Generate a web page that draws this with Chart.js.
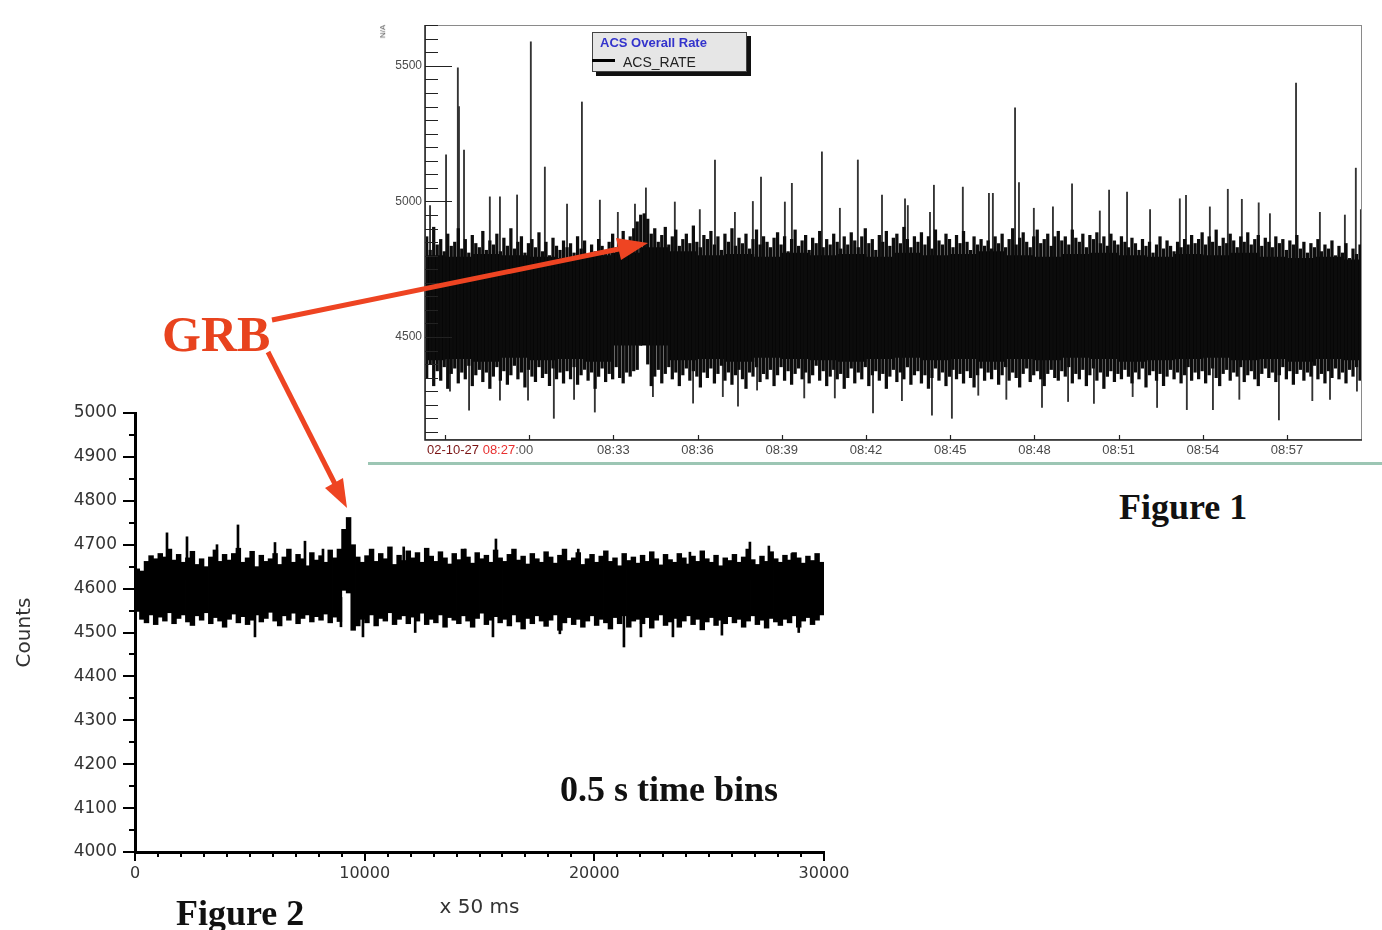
<!DOCTYPE html>
<html>
<head>
<meta charset="utf-8">
<title>ACS overall rate and GRB light curve</title>
<script src="https://cdn.jsdelivr.net/npm/chart.js@4.4.1/dist/chart.umd.min.js"></script>
<style>
	body { margin: 0; background: #fff; }
	#page { position: relative; width: 1382px; height: 930px; overflow: hidden; background: #fff; }
	canvas { position: absolute; }
	#fig1 { left: 380px; top: 20px; }
	#fig2 { left: 0; top: 400px; }
	.note { position: absolute; white-space: nowrap; line-height: 1; font-family: "Liberation Serif", "Times New Roman", serif; font-weight: bold; color: #111; }
	#grb { left: 162px; top: 309px; font-size: 50px; color: #e8431e; }
	#fig1-caption { left: 1119px; top: 489px; font-size: 36px; }
	#fig2-caption { left: 176px; top: 895px; font-size: 36px; }
	#bins { left: 560px; top: 771px; font-size: 36px; }
	#rule { position: absolute; left: 368px; top: 462px; width: 1014px; height: 3px; background: #9cc6b4; }
	#na { position: absolute; left: 376px; top: 27px; font: 8px "Liberation Sans", Arial, sans-serif; color: #555; transform: rotate(-90deg); }
	#legend { position: absolute; left: 592px; top: 32px; width: 155px; height: 40px; box-sizing: border-box; background: #e6e6e6; border: 1px solid #444; box-shadow: 4px 4px 0 #111; }
	#legend .title { position: absolute; left: 7px; top: 2px; font: bold 13px "Liberation Sans", Arial, sans-serif; color: #3333cc; white-space: nowrap; }
	#legend .swatch { position: absolute; left: -1px; top: 26px; width: 23px; height: 3px; background: #000; }
	#legend .name { position: absolute; left: 30px; top: 21px; font: 14px "Liberation Sans", Arial, sans-serif; color: #222; white-space: nowrap; }
	svg { position: absolute; left: 0; top: 0; }
</style>
</head>
<body>
<div id="page">
	<canvas id="fig1" width="1000" height="442"></canvas>
	<canvas id="fig2" width="860" height="530"></canvas>
	<div id="rule"></div>
	<div id="na">N/A</div>
	<div id="legend">
		<span class="title">ACS Overall Rate</span>
		<span class="swatch"></span>
		<span class="name">ACS_RATE</span>
	</div>
	<div class="note" id="grb">GRB</div>
	<div class="note" id="fig1-caption">Figure 1</div>
	<div class="note" id="fig2-caption">Figure 2</div>
	<div class="note" id="bins">0.5 s time bins</div>
	<svg width="1382" height="930">
		<line x1="272" y1="320" x2="619" y2="249" stroke="#ee4422" stroke-width="5"/>
		<polygon points="648,243 621,260 616,238" fill="#ee4422"/>
		<line x1="268" y1="352" x2="335" y2="484" stroke="#ee4422" stroke-width="5"/>
		<polygon points="347,508 343,478 325,488" fill="#ee4422"/>
	</svg>
</div>

<script>
// Figure 1 - ACS overall rate on 02-10-27, time in minutes after 08:00
// envelope of the rate, one entry every fig1Step minutes from fig1Start
const fig1Start = 26.35;
const fig1Step = 0.125;
const fig1Upper = [
	4870, 4820, 4905, 4840, 4860, 4815, 4880, 4835, 4850, 4900, 4825, 4860, 4810, 4875, 4845, 4830, 4890, 4820, 4855, 4840,
	4880, 4815, 4865, 4835, 4900, 4825, 4850, 4870, 4810, 4845, 4860, 4830, 4885, 4815, 4850, 4800, 4865, 4835, 4820, 4855,
	4830, 4845, 4810, 4870, 4825, 4855, 4800, 4840, 4815, 4860, 4835, 4820, 4850, 4880, 4830, 4860, 4890, 4845, 4870, 4900,
	4925, 4950, 4955, 4935, 4880, 4900, 4850, 4875, 4905, 4840, 4870, 4895, 4835, 4860, 4880, 4845, 4910, 4850, 4830, 4875,
	4860, 4890, 4840, 4870, 4820, 4880, 4850, 4900, 4835, 4865, 4845, 4880, 4825, 4860, 4895, 4840, 4870, 4850, 4830, 4865,
	4885, 4840, 4870, 4815, 4860, 4895, 4835, 4855, 4875, 4820, 4865, 4845, 4890, 4830, 4860, 4840, 4880, 4850, 4825, 4870,
	4840, 4885, 4855, 4830, 4870, 4900, 4845, 4860, 4820, 4875, 4850, 4890, 4835, 4865, 4880, 4845, 4905, 4860, 4830, 4870,
	4850, 4885, 4840, 4870, 4825, 4895, 4855, 4840, 4880, 4860, 4830, 4875, 4845, 4890, 4850, 4820, 4870, 4840, 4860, 4835,
	4855, 4825, 4870, 4845, 4880, 4830, 4860, 4900, 4840, 4865, 4885, 4850, 4830, 4870, 4895, 4845, 4860, 4880, 4835, 4870,
	4890, 4855, 4870, 4840, 4895, 4865, 4850, 4880, 4830, 4875, 4860, 4885, 4845, 4870, 4835, 4880, 4855, 4840, 4870, 4850,
	4830, 4865, 4845, 4820, 4860, 4835, 4850, 4810, 4840, 4870, 4825, 4855, 4835, 4815, 4850, 4830, 4860, 4840, 4875, 4845,
	4860, 4885, 4840, 4870, 4850, 4895, 4835, 4865, 4845, 4880, 4855, 4830, 4870, 4850, 4885, 4840, 4860, 4875, 4835, 4865,
	4850, 4830, 4870, 4845, 4860, 4820, 4855, 4840, 4875, 4825, 4850, 4810, 4845, 4830, 4860, 4815, 4840, 4825, 4855, 4800,
	4835, 4810, 4845, 4790, 4825, 4805, 4840
];
const fig1Lower = [
	4350, 4400, 4320, 4375, 4340, 4390, 4310, 4365, 4385, 4330, 4370, 4345, 4395, 4320, 4360, 4380, 4335, 4370, 4310, 4355,
	4390, 4340, 4375, 4325, 4360, 4395, 4345, 4370, 4315, 4380, 4355, 4335, 4390, 4350, 4365, 4320, 4385, 4345, 4370, 4330,
	4375, 4345, 4390, 4325, 4360, 4380, 4340, 4370, 4310, 4355, 4385, 4335, 4365, 4345, 4390, 4350, 4330, 4370, 4355, 4375,
	4380, 4470, 4475, 4400, 4320, 4355, 4380, 4330, 4365, 4390, 4345, 4370, 4320, 4360, 4385, 4340, 4375, 4355, 4315, 4370,
	4350, 4385, 4330, 4365, 4395, 4340, 4370, 4325, 4360, 4380, 4345, 4310, 4370, 4355, 4390, 4335, 4365, 4345, 4380, 4320,
	4360, 4390, 4340, 4375, 4325, 4365, 4385, 4345, 4370, 4330, 4360, 4395, 4340, 4375, 4320, 4355, 4380, 4345, 4365, 4310,
	4350, 4385, 4330, 4370, 4345, 4390, 4320, 4360, 4375, 4340, 4365, 4310, 4355, 4380, 4335, 4370, 4345, 4390, 4325, 4360,
	4375, 4330, 4360, 4310, 4350, 4385, 4340, 4370, 4320, 4355, 4380, 4345, 4365, 4330, 4375, 4350, 4315, 4360, 4385, 4340,
	4370, 4345, 4380, 4325, 4360, 4390, 4340, 4370, 4350, 4315, 4365, 4385, 4335, 4360, 4375, 4345, 4320, 4365, 4380, 4350,
	4340, 4375, 4355, 4390, 4330, 4365, 4345, 4380, 4320, 4360, 4385, 4340, 4370, 4310, 4355, 4375, 4335, 4365, 4345, 4380,
	4355, 4330, 4370, 4345, 4385, 4315, 4360, 4375, 4340, 4365, 4320, 4355, 4380, 4345, 4370, 4330, 4360, 4390, 4340, 4370,
	4345, 4375, 4330, 4360, 4385, 4350, 4320, 4365, 4380, 4340, 4370, 4355, 4390, 4335, 4360, 4375, 4345, 4320, 4365, 4385,
	4350, 4370, 4335, 4360, 4390, 4345, 4375, 4325, 4365, 4380, 4340, 4370, 4355, 4395, 4345, 4365, 4330, 4375, 4350, 4385,
	4345, 4370, 4330, 4380, 4355, 4390, 4340
];
// solid core of the band, one entry per minute
const fig1CoreStart = 26.5;
const fig1CoreStep = 1;
const fig1CoreUpper = [4800, 4795, 4805, 4800, 4795, 4790, 4800, 4810, 4830, 4815, 4800, 4805, 4795, 4810, 4800, 4805, 4795,
	4810, 4800, 4805, 4815, 4800, 4795, 4805, 4810, 4800, 4795, 4805, 4800, 4810, 4795, 4790, 4795, 4785];
const fig1CoreLower = [4415, 4420, 4410, 4425, 4415, 4420, 4410, 4470, 4470, 4415, 4420, 4410, 4425, 4420, 4415, 4410, 4420,
	4425, 4415, 4420, 4410, 4420, 4415, 4425, 4420, 4410, 4415, 4420, 4425, 4415, 4420, 4410, 4420, 4415];
// single-bin spikes above and below the band
const fig1SpikeTimes = [26.47, 27.04, 27.46, 27.50, 27.68, 28.60, 28.96, 29.57, 30.06, 30.56, 31.35, 31.88, 32.52, 33.16, 33.77,
	34.16, 35.19, 36.08, 36.62, 37.33, 37.97, 38.26, 39.11, 39.36, 40.43, 41.07, 41.71, 42.57, 43.39, 43.49, 44.28, 44.42,
	45.45, 46.38, 46.52, 47.31, 47.45, 47.98, 48.66, 49.34, 50.33, 50.66, 51.30, 52.12, 53.18, 53.40, 54.25, 54.89, 55.39,
	55.99, 56.39, 57.32, 58.17, 59.06, 59.45, 59.63];
const fig1SpikeTops = [4985, 5172, 5493, 5350, 5190, 5017, 5017, 5024, 5589, 5127, 4990, 5367, 5005, 4960, 4990,
	5050, 4998, 4970, 5153, 4960, 5000, 5090, 4998, 5067, 5183, 4975, 5153, 5024, 5010, 4985, 4960, 5060,
	5053, 5030, 5030, 5345, 5070, 4975, 4980, 5065, 4965, 5042, 5035, 4970, 5010, 5023, 4980, 5045, 5008,
	4995, 4955, 5437, 4960, 4950, 5123, 4970];
const fig1DipTimes = [27.18, 27.86, 28.96, 29.96, 30.88, 31.60, 32.34, 34.41, 35.84, 36.90, 37.44, 38.12, 39.80, 40.89, 42.25,
	43.28, 44.35, 45.06, 46.00, 47.00, 48.27, 49.20, 50.12, 51.50, 52.37, 53.43, 54.36, 55.30, 56.71, 57.90, 58.53, 59.49];
const fig1DipBottoms = [4300, 4230, 4267, 4267, 4200, 4270, 4223, 4280, 4256, 4280, 4245, 4304, 4275, 4275, 4220,
	4265, 4212, 4200, 4285, 4270, 4240, 4262, 4255, 4280, 4240, 4232, 4232, 4270, 4194, 4265, 4270, 4300];
const fig1TickMinutes = [27, 30, 33, 36, 39, 42, 45, 48, 51, 54, 57];
const fig1TickLabels = ['02-10-27 08:27:00', '', '08:33', '08:36', '08:39', '08:42', '08:45', '08:48', '08:51', '08:54', '08:57'];
const fig1RateTicks = [4500, 5000, 5500];

// Figure 2 - counts in 0.5 s bins, x in units of 50 ms
// envelope of the light curve, one entry every fig2BinStep units from fig2BinStart
const fig2BinStart = 100;
const fig2BinStep = 200;
const fig2Upper = [
	4645, 4640, 4662, 4675, 4668, 4680, 4672, 4690, 4665, 4678,
	4660, 4670, 4685, 4655, 4668, 4650, 4672, 4688, 4662, 4678,
	4665, 4680, 4692, 4660, 4670, 4685, 4650, 4676, 4662, 4668,
	4680, 4655, 4672, 4690, 4660, 4678, 4668, 4652, 4682, 4665,
	4675, 4660, 4688, 4670, 4690, 4735, 4762, 4700, 4672, 4660,
	4675, 4690, 4662, 4680, 4668, 4695, 4655, 4676, 4664, 4686,
	4670, 4682, 4660, 4692, 4674, 4662, 4684, 4670, 4656, 4680,
	4666, 4690, 4672, 4658, 4682, 4668, 4676, 4660, 4688, 4670,
	4662, 4678, 4690, 4665, 4674, 4656, 4680, 4668, 4660, 4684,
	4672, 4658, 4676, 4690, 4664, 4670, 4682, 4655, 4668, 4678,
	4660, 4674, 4686, 4662, 4670, 4652, 4680, 4664, 4672, 4658,
	4676, 4662, 4684, 4668, 4654, 4678, 4666, 4660, 4680, 4670,
	4656, 4674, 4662, 4686, 4668, 4660, 4676, 4652, 4670, 4664,
	4678, 4660, 4672, 4690, 4666, 4655, 4674, 4662, 4684, 4668,
	4660, 4676, 4665, 4682, 4670, 4658, 4674, 4664, 4680, 4660
];
const fig2Lower = [
	4548, 4530, 4522, 4540, 4518, 4535, 4526, 4545, 4520, 4532,
	4540, 4524, 4516, 4538, 4528, 4545, 4520, 4534, 4526, 4512,
	4530, 4542, 4522, 4536, 4518, 4528, 4540, 4524, 4532, 4546,
	4526, 4515, 4538, 4528, 4544, 4520, 4532, 4540, 4524, 4536,
	4528, 4542, 4522, 4535, 4525, 4596, 4590, 4505, 4515, 4530,
	4522, 4540, 4515, 4532, 4526, 4545, 4518, 4530, 4538, 4520,
	4535, 4526, 4544, 4518, 4530, 4522, 4540, 4512, 4534, 4528,
	4520, 4538, 4526, 4512, 4532, 4544, 4518, 4528, 4536, 4522,
	4530, 4515, 4540, 4524, 4508, 4532, 4520, 4538, 4526, 4514,
	4528, 4540, 4505, 4522, 4534, 4518, 4530, 4512, 4526, 4538,
	4516, 4530, 4522, 4508, 4534, 4520, 4538, 4512, 4526, 4530,
	4520, 4534, 4510, 4528, 4540, 4516, 4524, 4532, 4512, 4526,
	4538, 4518, 4530, 4506, 4524, 4534, 4516, 4528, 4520, 4536,
	4522, 4530, 4512, 4526, 4538, 4518, 4528, 4510, 4532, 4524,
	4516, 4530, 4522, 4538, 4512, 4526, 4534, 4518, 4528, 4540
];
const fig2SpikeX = [1393, 2264, 3570, 4484, 6095, 7401, 8185, 11700, 14380, 15716, 19300, 24162, 26774, 27601, 28600];
const fig2SpikeTops = [4727, 4718, 4700, 4745, 4705, 4708, 4690, 4695, 4690, 4713, 4690, 4683, 4706, 4697, 4680];
const fig2DipX = [5224, 8968, 9926, 12200, 15586, 18500, 21289, 22029, 23422, 25555, 28900];
const fig2DipBottoms = [4490, 4513, 4490, 4500, 4490, 4497, 4467, 4490, 4490, 4494, 4500];

(function() {
	'use strict';

	const SANS = '"Liberation Sans", Arial, sans-serif';
	const DEJAVU = '"DejaVu Sans", Verdana, sans-serif';

	// plain numbers, no thousands separator
	const plain = function(value) {
		return String(value);
	};

	/**
	 * Figure 1 frame: border, inward tick marks and the coloured date label
	 */
	const fig1FramePlugin = {
		id: 'fig1Frame',
		afterDraw: function(chart) {
			const ctx = chart.ctx;
			const a = chart.chartArea;
			const x = chart.scales.x;
			const y = chart.scales.y;

			ctx.save();
			ctx.strokeStyle = '#8a8a8a';
			ctx.lineWidth = 1;
			ctx.strokeRect(a.left + 0.5, a.top + 0.5, a.width - 1, a.height - 1);

			ctx.strokeStyle = '#222';
			ctx.lineWidth = 1.5;
			ctx.beginPath();
			ctx.moveTo(a.left, a.top);
			ctx.lineTo(a.left, a.bottom);
			ctx.lineTo(a.right, a.bottom);
			ctx.stroke();

			// rate ticks every 50, long ones at the labels
			ctx.lineWidth = 1.2;
			ctx.beginPath();
			for (let v = 4150; v <= 5650; v += 50) {
				const py = Math.round(y.getPixelForValue(v)) + 0.5;
				const len = fig1RateTicks.indexOf(v) >= 0 ? 27 : 13;
				ctx.moveTo(a.left, py);
				ctx.lineTo(a.left + len, py);
			}
			fig1TickMinutes.forEach(function(m) {
				const px = Math.round(x.getPixelForValue(m)) + 0.5;
				ctx.moveTo(px, a.bottom);
				ctx.lineTo(px, a.bottom - 5);
			});
			ctx.stroke();

			// first time label: date dark red, hour red, seconds grey
			const label = fig1TickLabels[0];
			const parts = [[label.slice(0, 9), '#7a1414'], [label.slice(9, 14), '#e83030'], [label.slice(14), '#555']];
			ctx.font = '13px ' + SANS;
			ctx.textBaseline = 'middle';
			let tx = a.left + 2;
			parts.forEach(function(p) {
				ctx.fillStyle = p[1];
				ctx.fillText(p[0], tx, a.bottom + 10.5);
				tx += ctx.measureText(p[0]).width;
			});
			ctx.restore();
		}
	};

	/**
	 * Figure 2 tick marks, major and minor, pointing out of the plot
	 */
	const fig2TickPlugin = {
		id: 'fig2Ticks',
		afterDraw: function(chart) {
			const ctx = chart.ctx;
			const a = chart.chartArea;
			const x = chart.scales.x;
			const y = chart.scales.y;

			ctx.save();
			ctx.strokeStyle = '#000';
			ctx.lineWidth = 2;
			ctx.beginPath();
			for (let v = 4000; v <= 5000; v += 50) {
				const py = Math.round(y.getPixelForValue(v));
				const len = v % 100 === 0 ? 12 : 6;
				ctx.moveTo(a.left - len, py);
				ctx.lineTo(a.left, py);
			}
			for (let v = 0; v <= 30000; v += 1000) {
				const px = Math.round(x.getPixelForValue(v));
				const len = v % 10000 === 0 ? 9 : 5;
				ctx.moveTo(px, a.bottom);
				ctx.lineTo(px, a.bottom + len);
			}
			ctx.stroke();
			ctx.restore();
		}
	};

	const Figures = {

		/**
		 * Initialize
		 */
		init: function() {
			this.initRateChart();
			this.initLightCurve();
		},

		/**
		 * Figure 1: ACS overall rate
		 */
		initRateChart: function() {
			const ctx = document.getElementById('fig1');

			const fringe = fig1Upper.map(function(hi, i) {
				return { x: fig1Start + i * fig1Step, y: [fig1Lower[i], hi] };
			});
			const core = fig1CoreUpper.map(function(hi, i) {
				return { x: fig1CoreStart + i * fig1CoreStep, y: [fig1CoreLower[i], hi] };
			});
			const spikes = fig1SpikeTimes.map(function(t, i) {
				return { x: t, y: [4700, fig1SpikeTops[i]] };
			});
			const dips = fig1DipTimes.map(function(t, i) {
				return { x: t, y: [fig1DipBottoms[i], 4480] };
			});

			this.rateChart = new Chart(ctx, {
				type: 'bar',
				data: {
					datasets: [
						{ label: 'ACS_RATE', data: fringe, backgroundColor: '#0c0c0c', barThickness: 2.6 },
						{ label: 'core', data: core, backgroundColor: '#000', barThickness: 28.5 },
						{ label: 'spikes', data: spikes, backgroundColor: '#333', barThickness: 1.2 },
						{ label: 'dips', data: dips, backgroundColor: '#333', barThickness: 1.2 }
					]
				},
				options: {
					responsive: false,
					animation: false,
					devicePixelRatio: 1,
					layout: { padding: { top: 5, right: 18, bottom: 0, left: 0 } },
					plugins: {
						legend: { display: false },
						tooltip: { enabled: false }
					},
					scales: {
						x: {
							type: 'linear',
							stacked: true,
							offset: false,
							min: 26.29,
							max: 59.67,
							grid: { display: false, drawTicks: false },
							border: { display: false },
							ticks: {
								autoSkip: false,
								maxRotation: 0,
								padding: 3,
								color: '#4a4a4a',
								font: { family: SANS, size: 13 },
								callback: function(value, index) {
									return index === 0 ? '' : fig1TickLabels[index];
								}
							},
							afterBuildTicks: function(scale) {
								scale.ticks = fig1TickMinutes.map(function(v) { return { value: v }; });
							},
							afterFit: function(scale) {
								scale.height = 22;
								scale.paddingLeft = 0;
								scale.paddingRight = 0;
							}
						},
						y: {
							stacked: false,
							beginAtZero: false,
							min: 4120,
							max: 5651,
							grid: { display: false, drawTicks: false },
							border: { display: false },
							ticks: {
								padding: 3,
								color: '#4a4a4a',
								font: { family: SANS, size: 12 },
								callback: plain
							},
							afterBuildTicks: function(scale) {
								scale.ticks = fig1RateTicks.map(function(v) { return { value: v }; });
							},
							afterFit: function(scale) {
								scale.width = 45;
								scale.paddingTop = 0;
								scale.paddingBottom = 0;
							}
						}
					}
				},
				plugins: [fig1FramePlugin]
			});
		},

		/**
		 * Figure 2: light curve around the burst
		 */
		initLightCurve: function() {
			const ctx = document.getElementById('fig2');

			const bins = fig2Upper.map(function(hi, i) {
				return { x: fig2BinStart + i * fig2BinStep, y: [fig2Lower[i], hi] };
			});
			const spikes = fig2SpikeX.map(function(t, i) {
				return { x: t, y: [4620, fig2SpikeTops[i]] };
			});
			const dips = fig2DipX.map(function(t, i) {
				return { x: t, y: [fig2DipBottoms[i], 4580] };
			});

			this.lightCurve = new Chart(ctx, {
				type: 'bar',
				data: {
					datasets: [
						{ label: 'Counts', data: bins, backgroundColor: '#000', barThickness: 4.8 },
						{ label: 'spikes', data: spikes, backgroundColor: '#000', barThickness: 2 },
						{ label: 'dips', data: dips, backgroundColor: '#000', barThickness: 2 }
					]
				},
				options: {
					responsive: false,
					animation: false,
					devicePixelRatio: 1,
					layout: { padding: { top: 13, right: 36, bottom: 10, left: 13 } },
					plugins: {
						legend: { display: false },
						tooltip: { enabled: false }
					},
					scales: {
						x: {
							type: 'linear',
							stacked: true,
							offset: false,
							min: 0,
							max: 30000,
							grid: { display: false, drawTicks: false },
							border: { display: true, color: '#000', width: 3 },
							ticks: {
								stepSize: 10000,
								maxRotation: 0,
								padding: 12,
								color: '#333',
								font: { family: DEJAVU, size: 16 },
								callback: plain
							},
							title: {
								display: true,
								text: 'x 50 ms',
								color: '#333',
								padding: 0,
								font: { family: DEJAVU, size: 20 }
							},
							afterFit: function(scale) {
								scale.height = 68;
								scale.paddingLeft = 0;
								scale.paddingRight = 0;
							}
						},
						y: {
							stacked: false,
							beginAtZero: false,
							min: 4000,
							max: 5000,
							grid: { display: false, drawTicks: false },
							border: { display: true, color: '#000', width: 3 },
							ticks: {
								stepSize: 100,
								padding: 18,
								color: '#333',
								font: { family: DEJAVU, size: 17 },
								callback: plain
							},
							title: {
								display: true,
								text: 'Counts',
								color: '#333',
								padding: 0,
								font: { family: DEJAVU, size: 20 }
							},
							afterFit: function(scale) {
								scale.width = 122;
								scale.paddingTop = 0;
								scale.paddingBottom = 0;
							}
						}
					}
				},
				plugins: [fig2TickPlugin]
			});
		}
	};

	Figures.init();

})();
</script>
</body>
</html>
